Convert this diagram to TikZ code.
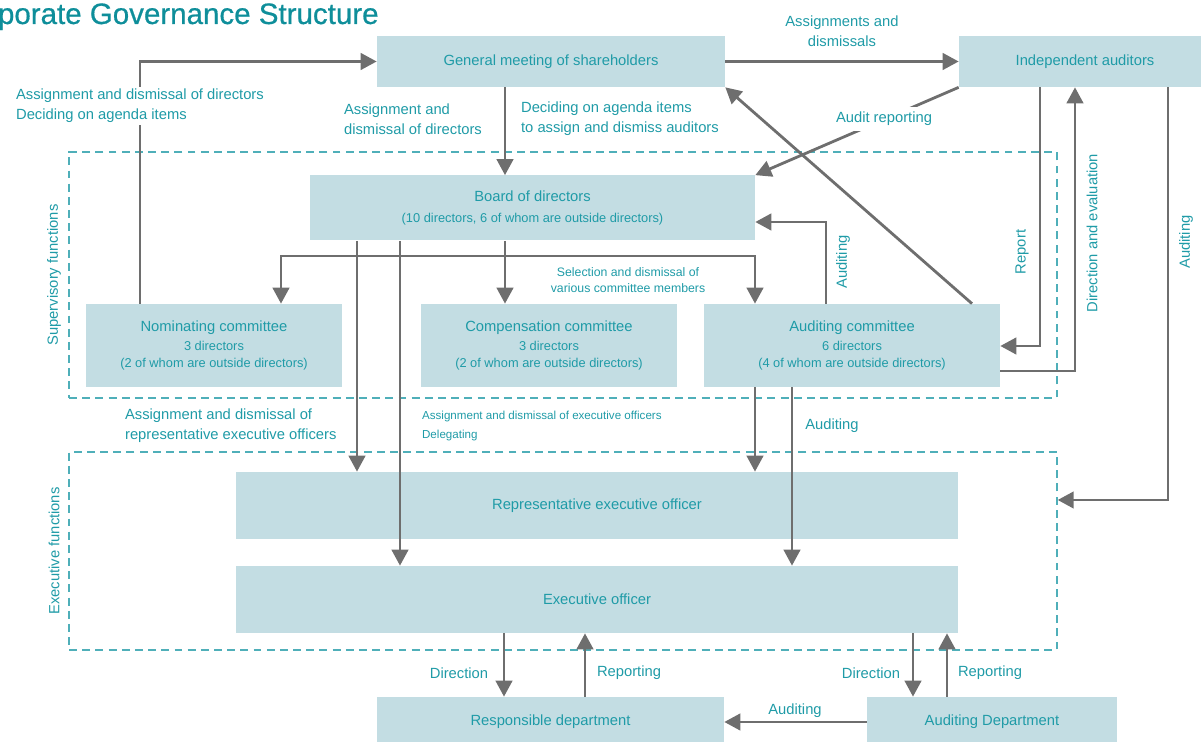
\documentclass[tikz,border=0pt]{standalone}
\usepackage{fontspec}
\setmainfont{Liberation Sans}
\newfontfamily\titlefont[FakeBold=0.6]{Liberation Sans}
\usepackage{tikz}
\usetikzlibrary{positioning, arrows.meta}
\definecolor{tealtext}{HTML}{1F9BA7}
\definecolor{tealtitle}{HTML}{0E8E9A}
\definecolor{boxblue}{HTML}{C3DDE3}
\definecolor{arrgrey}{HTML}{6E6E6E}
\definecolor{dashteal}{HTML}{4FAFB9}
\newcommand{\subfont}{\fontsize{7.3}{10}\selectfont}

\begin{document}
\begin{tikzpicture}[x=0.02cm, y=-0.02cm, >={Triangle[length=0.32cm,width=0.33cm]},
    box/.style={fill=boxblue, inner sep=0pt, text=tealtext, align=center, font=\fontsize{8.4}{11}\selectfont},
    frame/.style={draw=dashteal, line width=0.9pt, dash pattern=on 4.5pt off 3pt, inner sep=0pt},
    arr/.style={->, draw=arrgrey, line width=1.6pt},
    lbl/.style={text=tealtext, font=\fontsize{8.4}{11.3}\selectfont, inner sep=1pt},
    smalllbl/.style={text=tealtext, font=\fontsize{6.6}{11.3}\selectfont, inner sep=1pt}]
\useasboundingbox (0,0) rectangle (1201,742);

\node[anchor=base east, text=tealtitle, font=\titlefont\fontsize{16.8}{20}\selectfont, inner sep=0pt] (title) at (379,24) {Corporate Governance Structure};

% dashed areas
\node[frame, minimum width=19.76cm, minimum height=4.92cm] (sup) at (563,275) {};
\node[frame, minimum width=19.76cm, minimum height=3.96cm] (exe) at (563,551) {};
\node[lbl, rotate=90] (suplbl) at (54,275) {Supervisory functions};
\node[lbl, rotate=90] (exelbl) at (54,551) {Executive functions};

% boxes
\node[box, minimum width=6.96cm, minimum height=1.02cm] (gm) at (551,61.5) {General meeting of shareholders};
\node[box, minimum width=5.04cm, minimum height=1.02cm] (ia) at (1085,61.5) {Independent auditors};
\node[box, minimum width=8.9cm, minimum height=1.3cm] (bod) at (532.5,208) {Board of directors\\[1pt]{\subfont (10 directors, 6 of whom are outside directors)}};
\node[box, minimum width=5.12cm, minimum height=1.66cm] (nom) at (214,345.5) {Nominating committee\\{\subfont 3 directors}\\[-1pt]{\subfont (2 of whom are outside directors)}};
\node[box, minimum width=5.12cm, minimum height=1.66cm] (comp) at (549,345.5) {Compensation committee\\{\subfont 3 directors}\\[-1pt]{\subfont (2 of whom are outside directors)}};
\node[box, minimum width=5.92cm, minimum height=1.66cm] (aud) at (852,345.5) {Auditing committee\\{\subfont 6 directors}\\[-1pt]{\subfont (4 of whom are outside directors)}};
\node[box, minimum width=14.44cm, minimum height=1.34cm] (rep) at (597,505.5) {Representative executive officer};
\node[box, minimum width=14.44cm, minimum height=1.34cm] (exo) at (597,599.5) {Executive officer};
\node[box, minimum width=6.94cm, minimum height=1.0cm] (resp) at (550.5,722) {Responsible department};
\node[box, minimum width=5.0cm, minimum height=1.0cm] (adep) at (992,722) {Auditing Department};

% shareholders and auditors
\draw[arr] (140,0 |- nom.north) |- (gm.west);
\draw[arr] (gm.east) -- (ia.west);
\draw[arr] (gm.south -| 505,0) -- (bod.north -| 505,0);
\draw[arr] (ia.south west) -- (bod.north east);
\draw[arr] (972,0 |- aud.north) -- (gm.south east);
\draw[arr] (826,0 |- aud.north) |- (bod.east |- 0,222);
\draw[arr] (ia.south -| 1040,0) |- (aud.east |- 0,346);
\draw[arr] (aud.east |- 0,371) -| (ia.south -| 1075,0);
\draw[arr] (ia.south -| 1168,0) |- (exe.east |- 0,500);

% committees
\coordinate (sel) at (505,256);
\draw[arr] (bod.south -| sel) -- (comp.north -| sel);
\draw[arr] (sel) -| (nom.north -| 281,0);
\draw[arr] (sel) -| (aud.north -| 755,0);

% down to the officers
\foreach \xa/\tgt in {357/rep, 400/exo}
{
    \draw[arr] (bod.south -| \xa,0) -- (\tgt.north -| \xa,0);
}
\foreach \xa/\tgt in {755/rep, 792/exo}
{
    \draw[arr] (aud.south -| \xa,0) -- (\tgt.north -| \xa,0);
}

% departments
\foreach \xa/\xb/\tgt in {504/585/resp, 913/947/adep}
{
    \draw[arr] (exo.south -| \xa,0) -- (\tgt.north -| \xa,0);
    \draw[arr] (\tgt.north -| \xb,0) -- (exo.south -| \xb,0);
}
\draw[arr] (adep.west) -- (resp.east);

% labels
\node[lbl, fill=white, anchor=west, align=left] (l1) at (14,106) {Assignment and dismissal of directors\\Deciding on agenda items};
\node[lbl, align=center] (l2) at (842,31) {Assignments and\\dismissals};
\node[lbl, anchor=west, align=left] (l3) at (342,119) {Assignment and\\dismissal of directors};
\node[lbl, anchor=west, align=left] (l4) at (519,119) {Deciding on agenda items\\to assign and dismiss auditors};
\node[lbl, fill=white, inner sep=3pt] (l5) at (884,119) {Audit reporting};
\node[smalllbl, align=center, font=\fontsize{7}{9}\selectfont] (l6) at (628,280) {Selection and dismissal of\\various committee members};
\node[lbl, rotate=90] (l7) at (843,262) {Auditing};
\node[lbl, rotate=90] (l8) at (1022,252) {Report};
\node[lbl, rotate=90] (l9) at (1092,233) {Direction and evaluation};
\node[lbl, rotate=90] (l10) at (1186,242) {Auditing};
\node[lbl, anchor=west, align=left] (l11) at (123,426) {Assignment and dismissal of\\representative executive officers};
\node[smalllbl, anchor=west, align=left] (l12) at (420,426) {Assignment and dismissal of executive officers\\Delegating};
\node[lbl] (l13) at (832,426) {Auditing};
\node[lbl] (l14) at (459,673) {Direction};
\node[lbl] (l15) at (629,673) {Reporting};
\node[lbl] (l16) at (871,673) {Direction};
\node[lbl] (l17) at (990,673) {Reporting};
\node[lbl] (l18) at (795,711) {Auditing};
\end{tikzpicture}
\end{document}
